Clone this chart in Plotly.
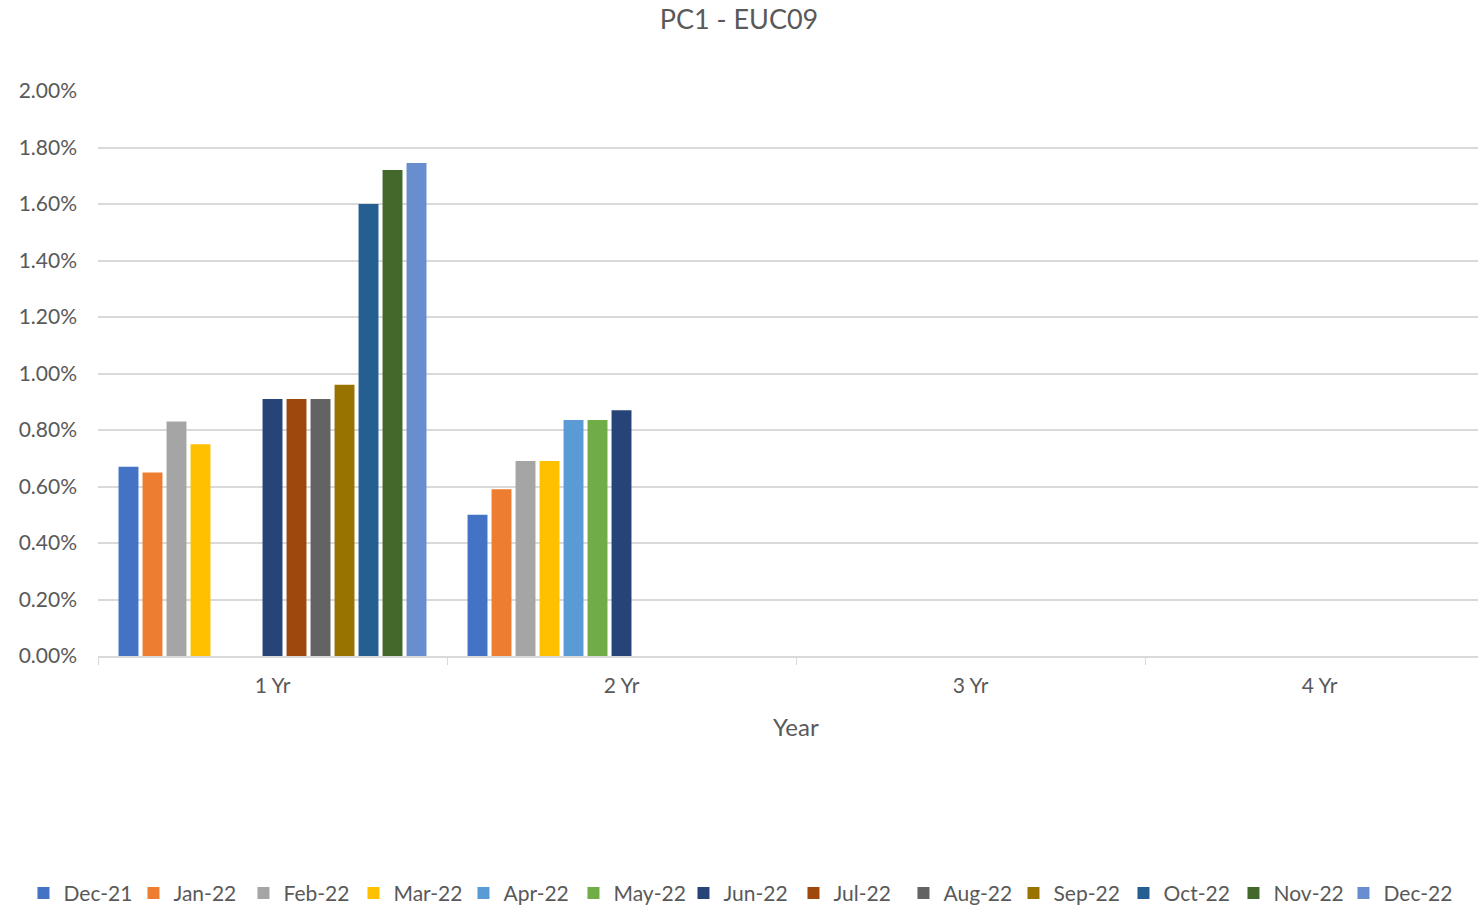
import plotly.graph_objects as go

categories = ["1 Yr", "2 Yr", "3 Yr", "4 Yr"]
series_names = ["Dec-21", "Jan-22", "Feb-22", "Mar-22", "Apr-22", "May-22", "Jun-22",
                "Jul-22", "Aug-22", "Sep-22", "Oct-22", "Nov-22", "Dec-22"]
colors = ["#4472C4", "#ED7D31", "#A5A5A5", "#FFC000", "#5B9BD5", "#70AD47", "#264478",
          "#9E480E", "#636363", "#997300", "#255E91", "#43682B", "#698ED0"]

dec21 = [0.0067, 0.0050, None, None]
jan22 = [0.0065, 0.0059, None, None]
feb22 = [0.0083, 0.0069, None, None]
mar22 = [0.0075, 0.0069, None, None]
apr22 = [None, 0.00835, None, None]
may22 = [None, 0.00835, None, None]
jun22 = [0.0091, 0.0087, None, None]
jul22 = [0.0091, None, None, None]
aug22 = [0.0091, None, None, None]
sep22 = [0.0096, None, None, None]
oct22 = [0.0160, None, None, None]
nov22 = [0.0172, None, None, None]
dec22 = [0.01745, None, None, None]

values = [dec21, jan22, feb22, mar22, apr22, may22, jun22,
          jul22, aug22, sep22, oct22, nov22, dec22]

font_family = "Lato, 'Open Sans', sans-serif"
text_color = "#595959"

fig = go.Figure()
for name, vals, col in zip(series_names, values, colors):
    fig.add_trace(go.Bar(name=name, x=categories, y=vals, marker_color=col,
                         marker_line_width=0))

fig.update_layout(
    width=1478, height=905,
    paper_bgcolor="white", plot_bgcolor="white",
    barmode="group", bargap=0.106, bargroupgap=0.17,
    margin=dict(l=98, r=0, t=91, b=249, autoexpand=False),
    font=dict(family=font_family, color=text_color, size=20),
    title=dict(text="PC1 - EUC09", x=0.5, xref="container", y=0.978, yanchor="middle",
               pad=dict(t=0), font=dict(size=27, color=text_color)),
    legend=dict(orientation="h", x=-0.054, xanchor="left",
                y=-0.42, yanchor="middle",
                entrywidth=65, entrywidthmode="pixels", itemwidth=30,
                font=dict(size=21, color=text_color), traceorder="normal"),
    showlegend=True,
    annotations=[dict(text="Year", x=1.5, xref="x", y=-0.124, yref="paper",
                      xanchor="center", yanchor="middle", showarrow=False,
                      font=dict(size=24, color=text_color))],
)
fig.update_yaxes(range=[0, 0.02], dtick=0.002, tickformat=".2%",
                 showgrid=True, gridcolor="#d9d9d9", gridwidth=1.5,
                 zeroline=False, showline=False, ticks="",
                 ticklabelstandoff=20,
                 tickfont=dict(size=21, color=text_color))
fig.update_xaxes(range=[-0.5, 3.454],
                 showline=True, linecolor="#d9d9d9", linewidth=1.5,
                 ticks="outside", tickson="boundaries", ticklen=7, tickcolor="#d9d9d9",
                 ticklabelstandoff=10,
                 tickfont=dict(size=21, color=text_color))

fig.write_html("out.html",
               config={"displayModeBar": False},
               post_script="document.body.style.margin='0';document.body.style.overflow='hidden';")
